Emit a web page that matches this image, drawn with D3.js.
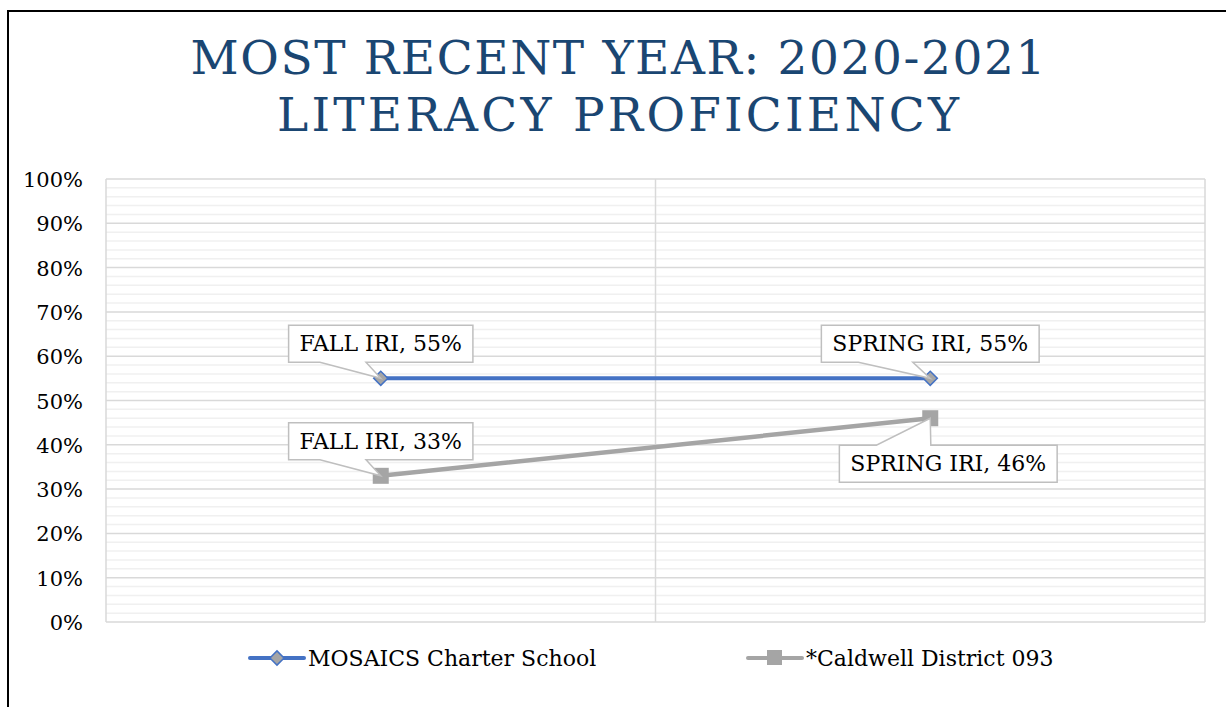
<!DOCTYPE html>
<html>
<head>
<meta charset="utf-8">
<script src="https://cdn.jsdelivr.net/npm/d3@7"></script>
<style>
  body { margin: 0; background: #fff; }
  text { font-family: "DejaVu Serif", serif; }
</style>
</head>
<body>
<div id="chart"></div>
<script>
// chart data
const categories = ['FALL IRI', 'SPRING IRI'];
const seriesNames = ['MOSAICS Charter School', '*Caldwell District 093'];
const mosaicsValues = [0.55, 0.55];
const caldwellValues = [0.33, 0.46];
const yTicks = [0, 0.1, 0.2, 0.3, 0.4, 0.5, 0.6, 0.7, 0.8, 0.9, 1.0];
const titleLines = ['MOST RECENT YEAR: 2020-2021', 'LITERACY PROFICIENCY'];

const width = 1226;
const height = 707;
const plot = { left: 106, right: 1205, top: 179, bottom: 622 };

const blue = '#4472C4';
const gray = '#A5A5A5';

const svg = d3.select('#chart')
  .append('svg')
  .attr('width', width)
  .attr('height', height);

// outer frame (only top and left edges show)
svg.append('path')
  .attr('d', `M8,${height} V11 H${width}`)
  .attr('fill', 'none')
  .attr('stroke', '#000')
  .attr('stroke-width', 2);

// title
svg.append('g').selectAll('text')
  .data(titleLines)
  .enter()
  .append('text')
  .attr('x', 618)
  .attr('y', (d, i) => 74 + i * 57)
  .attr('text-anchor', 'middle')
  .attr('fill', '#1A4672')
  .attr('font-size', 47)
  .attr('textLength', (d, i) => i === 0 ? 855 : 682)
  .attr('lengthAdjust', 'spacing')
  .text(d => d);

// scales
const x = d3.scaleBand()
  .domain(categories)
  .range([plot.left, plot.right]);

const y = d3.scaleLinear()
  .domain([0, 1])
  .range([plot.bottom, plot.top]);

const cx = d => x(d) + x.bandwidth() / 2;

// minor gridlines every 2%
const minor = d3.range(0, 1.001, 0.02).filter(v => Math.round(v * 100) % 10 !== 0);
svg.append('g').selectAll('line')
  .data(minor)
  .enter()
  .append('line')
  .attr('x1', plot.left)
  .attr('x2', plot.right)
  .attr('y1', d => y(d))
  .attr('y2', d => y(d))
  .attr('stroke', '#F0F0F0')
  .attr('stroke-width', 1.5);

// major gridlines
svg.append('g').selectAll('line')
  .data(yTicks)
  .enter()
  .append('line')
  .attr('x1', plot.left)
  .attr('x2', plot.right)
  .attr('y1', d => y(d))
  .attr('y2', d => y(d))
  .attr('stroke', '#D9D9D9')
  .attr('stroke-width', 1.5);

// vertical gridlines at category edges
svg.append('g').selectAll('line')
  .data([plot.left, x(categories[1]), plot.right])
  .enter()
  .append('line')
  .attr('x1', d => d)
  .attr('x2', d => d)
  .attr('y1', plot.top)
  .attr('y2', plot.bottom)
  .attr('stroke', '#D9D9D9')
  .attr('stroke-width', 1.5);

// y axis
const yAxis = d3.axisLeft(y)
  .tickValues(yTicks)
  .tickSize(0)
  .tickPadding(23)
  .tickFormat(d3.format('.0%'));

svg.append('g')
  .attr('transform', `translate(${plot.left},0)`)
  .call(yAxis)
  .call(g => g.select('.domain').remove())
  .selectAll('text')
  .attr('font-family', '"DejaVu Serif", serif')
  .attr('font-size', 21)
  .attr('fill', '#000')
  .attr('dy', '0.36em');

// lines
const line = d3.line()
  .x((d, i) => cx(categories[i]))
  .y(d => y(d));

svg.append('path')
  .datum(caldwellValues)
  .attr('d', line)
  .attr('fill', 'none')
  .attr('stroke', gray)
  .attr('stroke-width', 4.5)
  .attr('stroke-linecap', 'round');

svg.append('path')
  .datum(mosaicsValues)
  .attr('d', line)
  .attr('fill', 'none')
  .attr('stroke', blue)
  .attr('stroke-width', 4)
  .attr('stroke-linecap', 'round');

// markers
const diamond = d3.symbol().type(d3.symbolSquare).size(100);

svg.append('g').selectAll('path')
  .data(mosaicsValues)
  .enter()
  .append('path')
  .attr('d', diamond)
  .attr('transform', (d, i) => `translate(${cx(categories[i])},${y(d)}) rotate(45)`)
  .attr('fill', gray)
  .attr('stroke', blue)
  .attr('stroke-width', 1.5);

svg.append('g').selectAll('rect')
  .data(caldwellValues)
  .enter()
  .append('rect')
  .attr('x', (d, i) => cx(categories[i]) - 8)
  .attr('y', d => y(d) - 8)
  .attr('width', 16)
  .attr('height', 16)
  .attr('fill', gray);

// data label callouts
const labels = [];
mosaicsValues.forEach((v, i) => labels.push({ cat: categories[i], v: v, shift: 0, gap: -16 }));
caldwellValues.forEach((v, i) => labels.push({ cat: categories[i], v: v, shift: i === 1 ? 18 : 0, gap: i === 1 ? 27 : -16 }));

const labelG = svg.append('g');
labels.forEach(d => {
  const px = cx(d.cat);
  const py = y(d.v);
  const g = labelG.append('g');
  const t = g.append('text')
    .attr('font-size', 22)
    .attr('fill', '#000')
    .attr('text-anchor', 'middle')
    .text(`${d.cat}, ${d3.format('.0%')(d.v)}`);
  const w = t.node().getComputedTextLength() + 22;
  const h = 37;
  const left = px + d.shift - w / 2;
  const right = left + w;
  const top = d.gap < 0 ? py + d.gap - h : py + d.gap;
  const bottom = top + h;
  const a = left + w * 0.17;
  const b = left + w * 0.42;
  let p;
  if (d.gap < 0) {
    p = `M${left},${top} H${right} V${bottom} H${b} L${px},${py} L${a},${bottom} H${left} Z`;
  } else {
    p = `M${left},${top} H${a} L${px},${py} L${b},${top} H${right} V${bottom} H${left} Z`;
  }
  g.insert('path', 'text')
    .attr('d', p)
    .attr('fill', '#fff')
    .attr('stroke', '#BFBFBF')
    .attr('stroke-width', 1.5);
  t.attr('x', left + w / 2).attr('y', top + 26);
});

// legend
const legendX = [250, 748];
const legend = svg.append('g').selectAll('g')
  .data(seriesNames)
  .enter()
  .append('g')
  .attr('transform', (d, i) => `translate(${legendX[i]},658)`);

legend.append('line')
  .attr('x1', 0)
  .attr('x2', 54)
  .attr('stroke', (d, i) => i === 0 ? blue : gray)
  .attr('stroke-width', 4)
  .attr('stroke-linecap', 'round');

legend.filter((d, i) => i === 0)
  .append('path')
  .attr('d', diamond)
  .attr('transform', 'translate(27,0) rotate(45)')
  .attr('fill', gray)
  .attr('stroke', blue)
  .attr('stroke-width', 1.5);

legend.filter((d, i) => i === 1)
  .append('rect')
  .attr('x', 19)
  .attr('y', -8)
  .attr('width', 15)
  .attr('height', 15)
  .attr('fill', gray);

legend.append('text')
  .attr('x', 58)
  .attr('y', 8)
  .attr('font-size', 22)
  .attr('fill', '#000')
  .text(d => d);
</script>
</body>
</html>
